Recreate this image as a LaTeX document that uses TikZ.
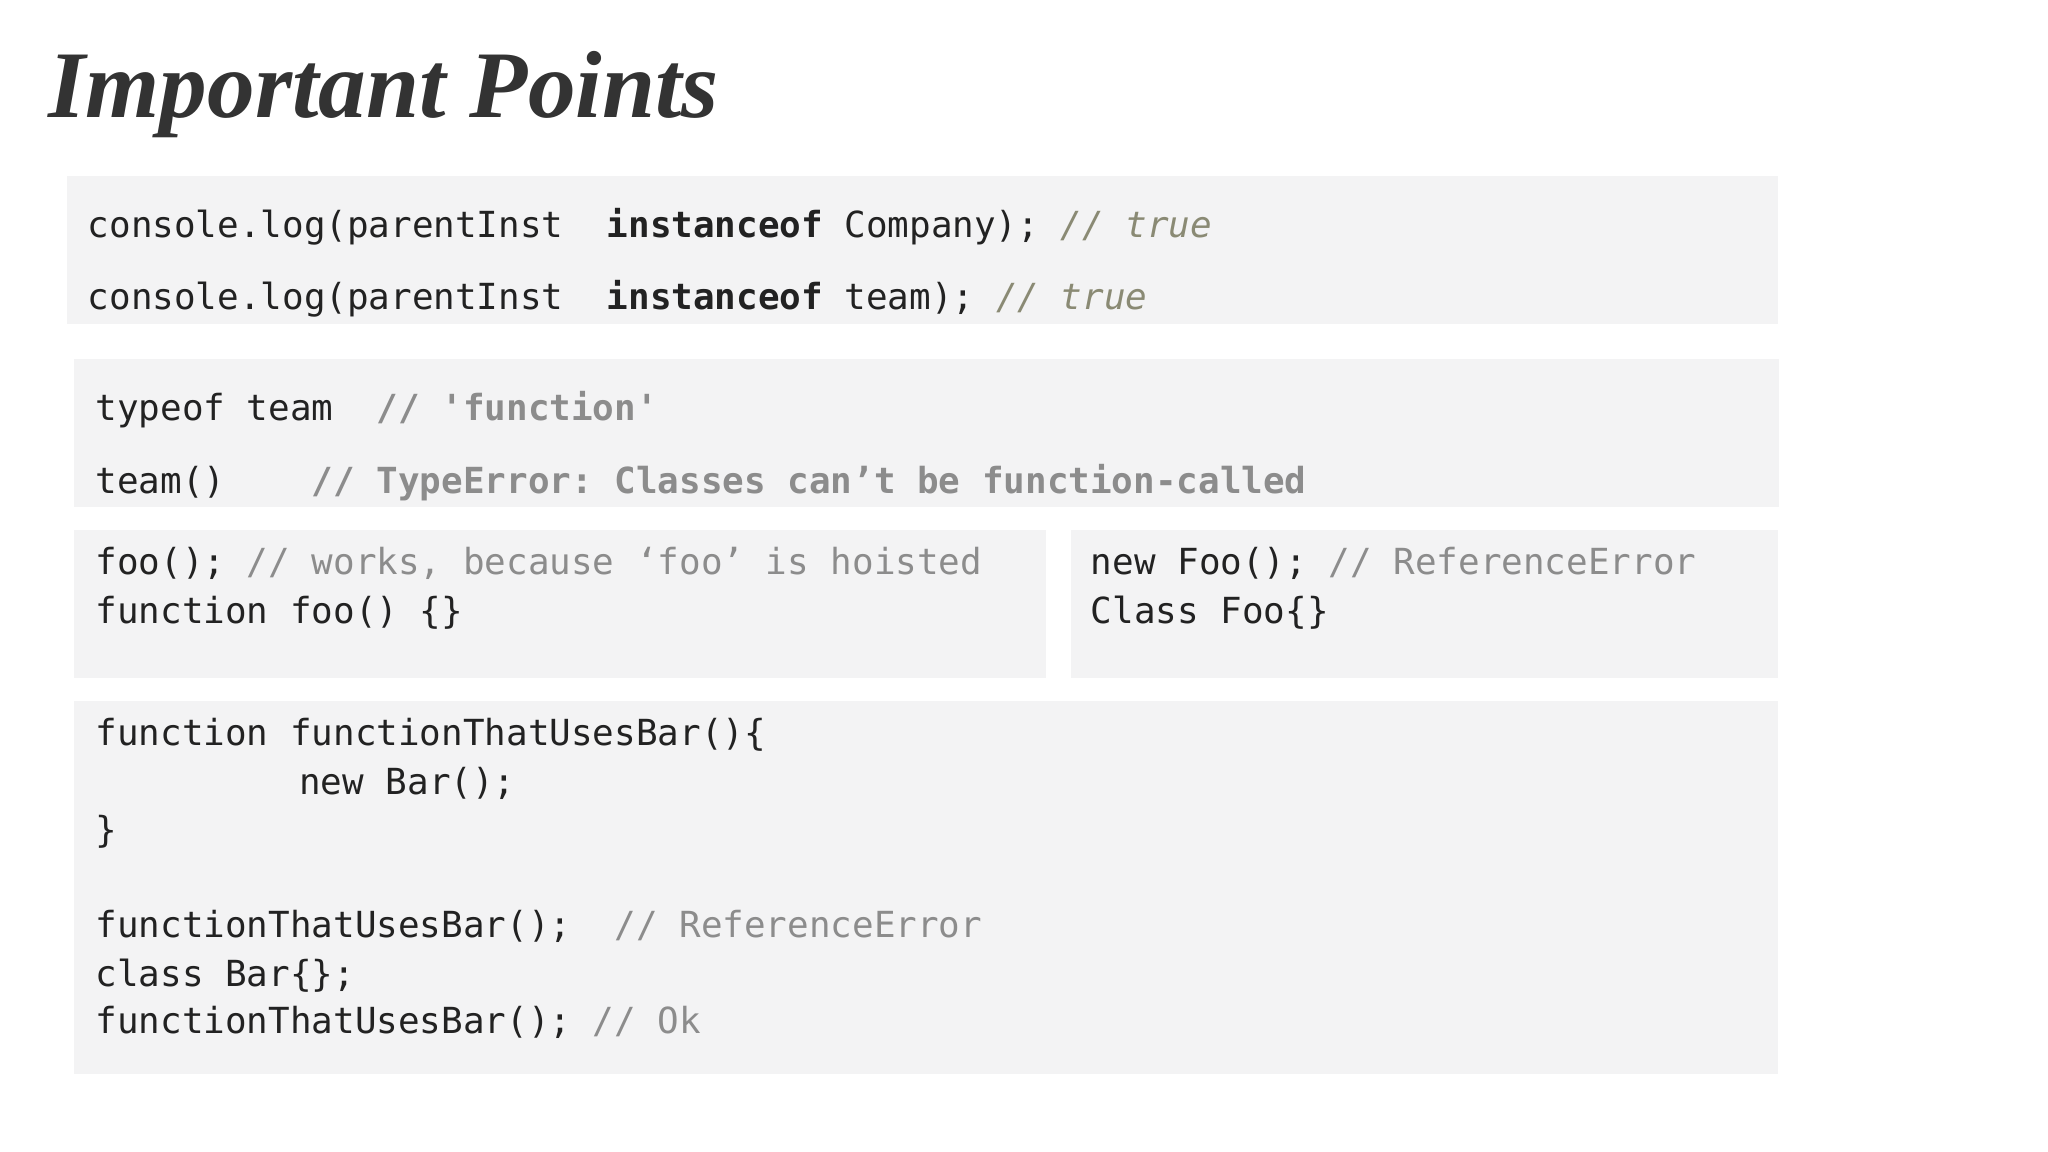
\documentclass[tikz,border=0pt]{standalone}
\usepackage{fontspec}
\setmainfont{Liberation Serif}
\setmonofont{DejaVu Sans Mono}
\definecolor{boxbg}{HTML}{F3F3F4}
\definecolor{codefg}{HTML}{222222}
\definecolor{cmt}{HTML}{8C8C8C}
\definecolor{cmtol}{HTML}{8A8A74}
\definecolor{titlefg}{HTML}{333333}
\begin{document}
\begin{tikzpicture}[x=1pt,y=-1pt,
  codebox/.style={fill=boxbg,draw=none},
  code/.style={anchor=base west,inner sep=0pt,font=\fontsize{27.5}{36}\ttfamily,text=codefg},
  cm/.style={text=cmt}]
\useasboundingbox[fill=white] (0,0) rectangle (1568,882);
\node[anchor=base west,inner sep=0pt,text=titlefg,font=\fontsize{73}{80}\selectfont\bfseries\itshape] (title) at (37,90) {Important Points};
\fill[codebox] (51,135) rectangle (1361,248);
\fill[codebox] (57,275) rectangle (1362,388);
\fill[codebox] (57,406) rectangle (801,519);
\fill[codebox] (820,406) rectangle (1361,519);
\fill[codebox] (57,537) rectangle (1361,822);
\node[code] (l1) at (67,182) {console.log(parentInst\ \ \textbf{instanceof} Company); \textcolor{cmtol}{\itshape// true}};
\node[code] (l2) at (67,237) {console.log(parentInst\ \ \textbf{instanceof} team); \textcolor{cmtol}{\itshape// true}};
\node[code] (l3) at (73,322) {typeof team\ \ \textcolor{cmt}{\bfseries// 'function'}};
\node[code] (l4) at (73,378) {team()\ \ \ \ \textcolor{cmt}{\bfseries// TypeError: Classes can’t be function-called}};
\node[code] (l5a) at (73,440) {foo(); \textcolor{cmt}{// works, because ‘foo’ is hoisted}};
\node[code] (l5b) at (73,477) {function foo() \{\}};
\node[code] (l6a) at (835,440) {new Foo(); \textcolor{cmt}{// ReferenceError}};
\node[code] (l6b) at (835,477) {Class Foo\{\}};
\node[code] (l7a) at (73,571) {function functionThatUsesBar()\{};
\node[code] (l7b) at (229,608) {new Bar();};
\node[code] (l7c) at (73,645) {\}};
\node[code] (l7d) at (73,718) {functionThatUsesBar();\ \ \textcolor{cmt}{// ReferenceError}};
\node[code] (l7e) at (73,755) {class Bar\{\};};
\node[code] (l7f) at (73,791) {functionThatUsesBar(); \textcolor{cmt}{// Ok}};
\end{tikzpicture}
\end{document}
